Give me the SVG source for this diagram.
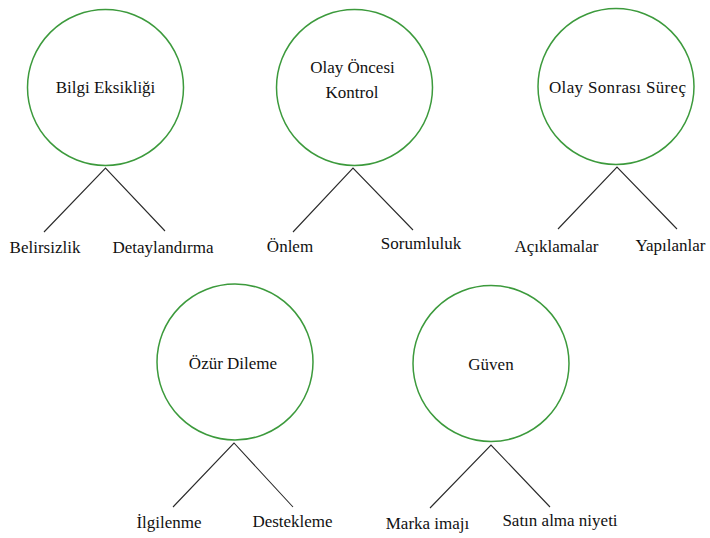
<svg xmlns="http://www.w3.org/2000/svg" width="710" height="538" viewBox="0 0 710 538">
<style>
.c{fill:none;stroke:#3c9a3c;stroke-width:1.5}
.l{stroke:#2a2a2a;stroke-width:1.1;fill:none}
.t{font-family:"Liberation Serif","Times New Roman",serif;font-size:17px;fill:#111;text-anchor:middle}
</style>
<rect width="710" height="538" fill="#fff"/>
<g id="n1"><circle class="c" cx="105.5" cy="87.5" r="78"/><text class="t" x="105.5" y="93">Bilgi Eksikliği</text></g>
<g id="n2"><circle class="c" cx="354.5" cy="87.5" r="78"/><text class="t" x="352.5" y="73">Olay Öncesi</text><text class="t" x="352" y="98">Kontrol</text></g>
<g id="n3"><circle class="c" cx="616" cy="86.5" r="78"/><text class="t" x="617.5" y="93" textLength="137" lengthAdjust="spacing">Olay Sonrası Süreç</text></g>
<g id="n4"><circle class="c" cx="235" cy="362" r="78"/><text class="t" x="233" y="369">Özür Dileme</text></g>
<g id="n5"><circle class="c" cx="491" cy="363.5" r="78"/><text class="t" x="491" y="370">Güven</text></g>
<g id="leaves">
<text class="t" x="45" y="253">Belirsizlik</text>
<text class="t" x="163" y="253">Detaylandırma</text>
<text class="t" x="290" y="252">Önlem</text>
<text class="t" x="421" y="249">Sorumluluk</text>
<text class="t" x="556.5" y="252">Açıklamalar</text>
<text class="t" x="670.5" y="251">Yapılanlar</text>
<text class="t" x="169" y="528">İlgilenme</text>
<text class="t" x="292.5" y="527">Destekleme</text>
<text class="t" x="427.5" y="529">Marka imajı</text>
<text class="t" x="560" y="526">Satın alma niyeti</text>
</g>
<g id="connectors">
<path class="l" d="M44 232 L105.5 168 L165 231"/>
<path class="l" d="M293 232 L353 168 L413 230"/>
<path class="l" d="M558 229 L617 167 L677 229"/>
<path class="l" d="M173 507 L234 443 L293 507"/>
<path class="l" d="M430 508 L491 445 L550 507"/>
</g>
</svg>
